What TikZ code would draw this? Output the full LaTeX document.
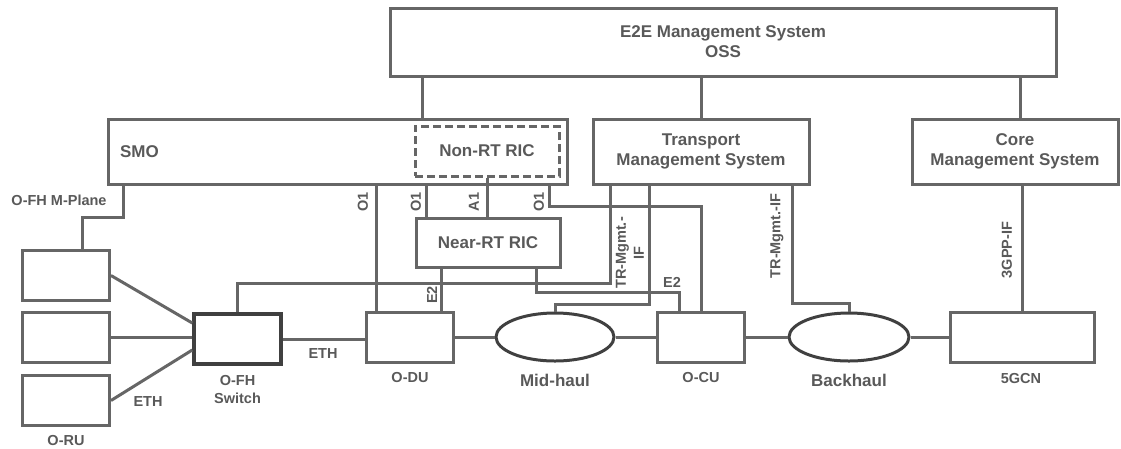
\documentclass[tikz,border=0pt]{standalone}
\usepackage{fontspec}
\setmainfont{Liberation Sans}
\usetikzlibrary{positioning, shapes.geometric}
\definecolor{linegray}{HTML}{666666}
\definecolor{textgray}{HTML}{595959}
\definecolor{darkline}{HTML}{404040}

\begin{document}
\begin{tikzpicture}[x=1pt, y=-1pt,
    box/.style={draw=linegray, line width=3pt, inner sep=0pt, text=textgray, align=center,
        font=\fontsize{17}{20}\selectfont\bfseries},
    unit/.style={box, minimum width=87pt, minimum height=50pt},
    cloud/.style={ellipse, draw=darkline, line width=3pt, inner sep=0pt, minimum width=118pt, minimum height=48pt},
    conn/.style={draw=linegray, line width=3pt},
    lbl/.style={text=textgray, inner sep=0pt, align=center, font=\fontsize{14.5}{18}\selectfont\bfseries},
    biglbl/.style={lbl, font=\fontsize{17}{20}\selectfont\bfseries}]
    \useasboundingbox (0,0) rectangle (1121,448);

    %boxes
    \node (e2e) at (723,42) [box, minimum width=666pt, minimum height=68pt] {E2E Management System\\OSS};
    \node (smo) at (337.5,151.5) [box, minimum height=65pt, text width=435pt, inner xsep=12pt, align=left] {SMO};
    \node (nonrt) at (487,151) [box, dash pattern=on 8pt off 4pt, minimum width=144pt, minimum height=50pt] {Non-RT RIC};
    \node (tms) at (701,151.5) [box, minimum width=216pt, minimum height=65pt] {Transport\\Management System};
    \node (cms) at (1015,151.5) [box, minimum width=206pt, minimum height=65pt] {Core\\Management System};
    \node (nrt) at (488,242.5) [box, minimum width=144pt, minimum height=49pt] {Near-RT RIC};
    \node (oru1) at (66,275.5) [unit] {};
    \node (oru2) at (66,337) [unit] {};
    \node (oru3) at (66,400.5) [unit] {};
    \node (sw) at (237.5,339) [unit, draw=darkline, line width=3.5pt] {};
    \node (odu) at (409.5,337) [unit] {};
    \node (ocu) at (701,337) [unit] {};
    \node (cn) at (1022,337) [unit, minimum width=144pt] {};
    \node (mh) at (555,337) [cloud] {};
    \node (bh) at (849,337) [cloud, minimum width=120pt] {};

    %captions
    \node (orulbl) at (66,440) [lbl] {O-RU};
    \node (swlbl) at (237.5,389) [lbl] {O-FH\\Switch};
    \node (odulbl) at (410,377) [lbl] {O-DU};
    \node (mhlbl) at (555,380) [biglbl] {Mid-haul};
    \node (oculbl) at (701,377) [lbl] {O-CU};
    \node (bhlbl) at (849,380) [biglbl] {Backhaul};
    \node (cnlbl) at (1021,378) [lbl] {5GCN};

    %management links
    \draw[conn] (e2e.south -| 422,0) -- (smo.north -| 422,0);
    \draw[conn] (e2e.south -| tms.north) -- (tms.north);
    \draw[conn] (e2e.south -| 1020,0) -- (cms.north -| 1020,0);
    \draw[conn] (smo.south -| 123,0) -- (123,217) -| (oru1.north -| 82,0);
    \draw[conn] (smo.south -| 376,0) -- (odu.north -| 376,0);
    \draw[conn] (smo.south -| 426,0) -- (nrt.north -| 426,0);
    \draw[conn] (nonrt.south) -- (nrt.north -| nonrt.south);
    \draw[conn] (smo.south -| 549,0) -- (549,206) -| (ocu.north);
    \draw[conn] (nrt.south -| 441,0) -- (odu.north -| 441,0);
    \draw[conn] (nrt.south -| 536,0) -- (536,292) -| (ocu.north -| 679,0);
    \draw[conn] (sw.north) -- (sw.north |- 0,283) -| (tms.south -| 610,0);
    \draw[conn] (tms.south -| 649,0) -- (649,304) -| (mh.north);
    \draw[conn] (tms.south -| 792,0) -- (792,303) -| (bh.north);
    \draw[conn] (cn.north) -- (cms.south -| cn.north);

    %data links
    \draw[conn] (oru1.east) -- ([yshift=16pt]sw.west);
    \draw[conn] (oru2.east) -- (sw.west |- oru2.east);
    \draw[conn] (oru3.east) -- ([yshift=-11pt]sw.west);
    \draw[conn] (sw.east) -- (odu.west |- sw.east);
    \draw[conn] (odu.east) -- (mh.west);
    \draw[conn] (mh.east) -- (ocu.west);
    \draw[conn] (ocu.east) -- (bh.west);
    \draw[conn] (bh.east) -- (cn.west);

    %interface names
    \node (mplbl) at (59,200) [lbl] {O-FH M-Plane};
    \node (eth1) at (148,402) [lbl] {ETH};
    \node (eth2) at (323,354) [lbl] {ETH};
    \node (o1a) at (363,202) [lbl, rotate=90] {O1};
    \node (o1b) at (416,202) [lbl, rotate=90] {O1};
    \node (a1) at (474,202) [lbl, rotate=90] {A1};
    \node (o1c) at (539,202) [lbl, rotate=90] {O1};
    \node (e2a) at (432,295) [lbl, rotate=90] {E2};
    \node (e2b) at (672,282) [lbl] {E2};
    \node (trm1) at (630,253) [lbl, rotate=90] {TR-Mgmt.-\\IF};
    \node (trm2) at (777,236) [lbl, rotate=90] {TR-Mgmt.-IF};
    \node (gpp) at (1007,250) [lbl, rotate=90] {3GPP-IF};
\end{tikzpicture}
\end{document}
